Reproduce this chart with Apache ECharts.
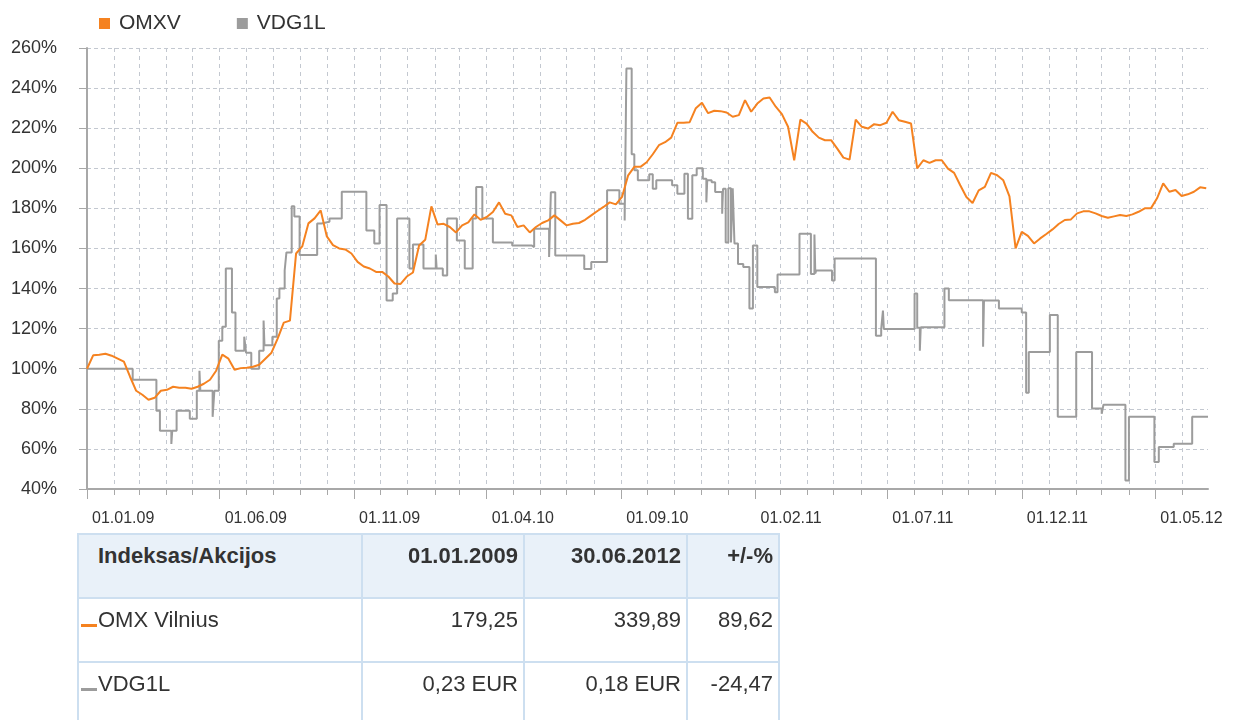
<!DOCTYPE html>
<html>
<head>
<meta charset="utf-8">
<script src="https://cdn.jsdelivr.net/npm/echarts@6/dist/echarts.min.js"></script>
<style>
  html, body { margin: 0; padding: 0; background: #fff; }
  #chart { position: absolute; left: 0; top: 0; width: 1234px; height: 720px; }
  #tbl {
    position: absolute; left: 77px; top: 533px; width: 701px;
    border-collapse: collapse; table-layout: fixed;
    font-family: 'Liberation Sans', Arial, sans-serif; font-size: 22px; color: #333;
  }
  #tbl tr { height: 64px; }
  #tbl td, #tbl th {
    border: 2px solid #cddff0; vertical-align: top;
    padding: 8px 5px 0 5px; white-space: nowrap; overflow: hidden;
  }
  #tbl th { background: #e9f1f9; font-weight: bold; text-align: right; }
  #tbl td { text-align: right; }
  #tbl .name { text-align: left; padding-left: 19px; position: relative; }
  #tbl .mark { position: absolute; left: 2px; top: 25px; width: 16px; height: 3px; }
</style>
</head>
<body>
<div id="chart"></div>
<table id="tbl"></table>
<script>
// OMXV, weekly closes rebased to 100 on 01.01.2009 (%)
var omxvWeekly = [
  100, 106.7, 107, 107.5, 106.5, 105, 103.5, 96, 89, 87,
  84.5, 85.5, 89, 89.5, 91, 90.5, 90.5, 90, 91, 92.5,
  94.5, 99, 107, 105, 99.5, 100.3, 100.5, 101, 102, 105,
  108, 115, 123, 124, 157.5, 161, 172.5, 175, 179, 166,
  161.7, 160, 159.5, 157.5, 153.3, 151, 150, 148.3, 148.3, 146,
  142.5, 142.3, 146, 148, 161.5, 164.3, 181, 172, 172.3, 170.7,
  168, 171.5, 173, 177, 174.3, 175.7, 178.2, 183, 177.3, 176.5,
  170.7, 171.5, 168, 170.7, 172.7, 174, 176.5, 174, 171.5, 172.3,
  172.7, 174.3, 176.5, 178.7, 180.7, 183, 182, 185.7, 196.5, 200.7,
  200.7, 203, 207, 211.5, 213, 215.3, 222.7, 222.7, 223, 230,
  232.7, 227.5, 228.7, 228.5, 227.8, 225.7, 226.5, 234, 228.2, 232.3,
  234.8, 235.3, 230.7, 227, 220.7, 204, 224.3, 222.3, 218.2, 215.3,
  214, 214, 209.8, 205.3, 204.3, 224.3, 220.7, 219.8, 222, 221.5,
  222.7, 228.2, 224, 223.2, 222.3, 200, 204, 202.7, 204, 204,
  199.8, 197.7, 191.5, 185.7, 182.7, 189, 190.7, 197.7, 196.5, 194,
  186, 160, 168.3, 166.3, 162.5, 165, 167.2, 169.5, 172.2, 174.2,
  174.5, 177.5, 178.5, 178.5, 177.5, 176.2, 175.3, 176, 176.7, 176.2,
  177, 178.3, 180, 180, 185, 192.5, 188.3, 189.2, 186.2, 187,
  188.3, 190.5, 190
];

// VDG1L, price changes (date, % of 01.01.2009)
var vdgDates = [
  '2009-01-01','2009-02-22','2009-03-21','2009-03-25','2009-04-07','2009-04-08','2009-04-13','2009-04-28',
  '2009-05-06','2009-05-09','2009-05-10','2009-05-24','2009-05-26','2009-05-31','2009-06-04','2009-06-08',
  '2009-06-15','2009-06-19','2009-06-29','2009-07-01','2009-07-07','2009-07-16','2009-07-21','2009-07-22',
  '2009-07-31','2009-08-05','2009-08-08','2009-08-14','2009-08-16','2009-08-22','2009-08-25','2009-08-31',
  '2009-09-20','2009-09-25','2009-10-04','2009-10-18','2009-11-15','2009-11-24','2009-11-30','2009-12-08',
  '2009-12-15','2009-12-20','2010-01-03','2010-01-07','2010-01-19','2010-02-02','2010-02-03','2010-02-10',
  '2010-02-15','2010-02-26','2010-03-07','2010-03-16','2010-03-20','2010-03-27','2010-04-08','2010-04-30',
  '2010-05-22','2010-05-25','2010-06-11','2010-06-13','2010-06-18','2010-07-21','2010-07-29','2010-08-16',
  '2010-08-30','2010-09-05','2010-09-07','2010-09-13','2010-09-16','2010-09-20','2010-10-03','2010-10-07',
  '2010-10-11','2010-10-29','2010-11-04','2010-11-12','2010-11-16','2010-11-21','2010-11-26','2010-12-03',
  '2010-12-07','2010-12-08','2010-12-13','2010-12-17','2010-12-25','2010-12-26','2010-12-29','2011-01-01',
  '2011-01-04','2011-01-06','2011-01-08','2011-01-12','2011-01-18','2011-01-25','2011-01-29','2011-02-03',
  '2011-02-23','2011-02-26','2011-03-23','2011-04-05','2011-04-09','2011-04-10','2011-04-11','2011-04-29',
  '2011-05-02','2011-06-18','2011-06-24','2011-06-26','2011-06-27','2011-08-01','2011-08-04','2011-08-07',
  '2011-08-08','2011-09-04','2011-09-09','2011-10-18','2011-10-19','2011-11-05','2011-12-01','2011-12-06',
  '2011-12-09','2012-01-02','2012-01-11','2012-02-01','2012-02-19','2012-03-01','2012-03-03','2012-03-28',
  '2012-04-01','2012-04-30','2012-05-05','2012-05-22','2012-06-12','2012-06-30'
];
var vdgValues = [
  100, 94.5, 79, 69, 62.5, 69, 79, 75,
  89, 99, 89, 76, 89, 114, 121, 150,
  128, 109, 116, 108, 100, 109, 124, 111.7,
  116, 135, 140, 149, 158, 181, 176, 156.7,
  172.5, 173.3, 175, 188.3, 169, 162.5, 181.7, 134,
  137.5, 175, 150, 162, 150, 157, 150, 146.5,
  175, 164, 150, 175, 190.7, 175, 163, 161.5,
  160.7, 169.8, 155.7, 188, 156.5, 149.8, 153.2, 189,
  182.3, 174, 249.8, 207, 199, 194, 197, 189.8,
  194, 191.5, 187.3, 197.3, 174.8, 196.5, 200, 194.8,
  183, 194, 193, 188.2, 177.3, 189.8, 163, 190,
  163, 190, 162.5, 152.3, 150.7, 130, 161.5, 140.8,
  138.2, 147, 167.3, 147.3, 167, 147.5, 149, 144,
  155, 116.5, 119.8, 129, 119.8, 137.5, 120.5, 109,
  120.7, 140, 134.2, 111, 134, 130, 128, 88,
  108.4, 126.8, 76, 108.4, 80.2, 77.5, 82, 44.3,
  76, 53.5, 61, 62.6, 76, 76
];

var labelMonths = ['2009-01', '2009-06', '2009-11', '2010-04', '2010-09', '2011-02', '2011-07', '2011-12', '2012-05'];

var tableHead = ['Indeksas/Akcijos', '01.01.2009', '30.06.2012', '+/-%'];
var tableRows = [
  ['OMX Vilnius', '179,25', '339,89', '89,62'],
  ['VDG1L', '0,23 EUR', '0,18 EUR', '-24,47']
];
var colWidths = [284, 162, 163, 92];

var orange = '#f58220';
var grey = '#9c9c9c';
var font = "'Liberation Sans', Arial, sans-serif";

// table under the chart
var tbl = document.getElementById('tbl');
var html = '<colgroup>' + colWidths.map(function (w) { return '<col style="width:' + w + 'px">'; }).join('') + '</colgroup><tr>';
tableHead.forEach(function (h, i) {
  html += '<th' + (i === 0 ? ' style="text-align:left;padding-left:19px"' : '') + '>' + h + '</th>';
});
html += '</tr>';
var marks = [orange, grey];
tableRows.forEach(function (r, ri) {
  html += '<tr>';
  r.forEach(function (c, i) {
    if (i === 0) {
      html += '<td class="name"><span class="mark" style="background:' + marks[ri] + '"></span>' + c + '</td>';
    } else {
      html += '<td>' + c + '</td>';
    }
  });
  html += '</tr>';
});
tbl.innerHTML = html;

function ts(s) {
  var p = s.split('-');
  return new Date(+p[0], +p[1] - 1, p[2] ? +p[2] : 1).getTime();
}

var monthTicks = [];
for (var y = 2009; y <= 2012; y++) {
  for (var m = 0; m < 12; m++) {
    if (y === 2012 && m > 5) break;
    monthTicks.push(new Date(y, m, 1).getTime());
  }
}
var labelTicks = labelMonths.map(ts);

var omxvData = omxvWeekly.map(function (v, i) {
  return [new Date(2009, 0, 1 + 7 * i).getTime(), v];
});
var vdgData = vdgDates.map(function (d, i) { return [ts(d), vdgValues[i]]; });

var chart = echarts.init(document.getElementById('chart'));
var xMin = ts('2009-01-01'), xMax = ts('2012-06-30');

function fmtDate(v) {
  var d = new Date(v);
  var p = function (n) { return (n < 10 ? '0' : '') + n; };
  return p(d.getDate()) + '.' + p(d.getMonth() + 1) + '.' + p(d.getFullYear() % 100);
}

chart.setOption({
  animation: false,
  backgroundColor: '#fff',
  textStyle: { fontFamily: font },
  legend: {
    left: 99, top: 13, padding: 0,
    icon: 'rect', itemWidth: 11, itemHeight: 11, itemGap: 56,
    textStyle: { fontSize: 21, color: '#333', padding: [0, 0, 0, 4] },
    data: ['OMXV', 'VDG1L']
  },
  grid: { left: 87, right: 26, top: 48, bottom: 231 },
  xAxis: [{
    type: 'value', min: xMin, max: xMax,
    axisLine: { lineStyle: { color: '#a8a8a8', width: 2 } },
    axisTick: { customValues: monthTicks, length: 6, lineStyle: { color: '#a8a8a8' } },
    axisLabel: {
      customValues: labelTicks, align: 'left', margin: 22, padding: [0, 0, 0, 5],
      fontSize: 16, color: '#333', formatter: fmtDate
    },
    splitLine: { show: true, lineStyle: { color: '#c3c8d0', type: [4, 4] } }
  }, {
    type: 'value', min: xMin, max: xMax, position: 'bottom',
    axisLine: { show: false },
    axisTick: { customValues: labelTicks, length: 10, lineStyle: { color: '#a8a8a8' } },
    axisLabel: { show: false },
    splitLine: { show: false }
  }],
  yAxis: {
    type: 'value', min: 40, max: 260, interval: 20,
    axisLine: { show: true, lineStyle: { color: '#a8a8a8', width: 2 } },
    axisTick: { show: true, length: 8, lineStyle: { color: '#a8a8a8' } },
    axisLabel: { fontSize: 18, color: '#333', margin: 30, formatter: '{value}%' },
    splitLine: { lineStyle: { color: '#c3c8d0', type: [4, 3] } }
  },
  series: [{
    name: 'OMXV', type: 'line', data: omxvData, showSymbol: false, symbol: 'none',
    color: orange, lineStyle: { width: 2, color: orange }, z: 3
  }, {
    name: 'VDG1L', type: 'line', step: 'end', data: vdgData, showSymbol: false, symbol: 'none',
    color: grey, lineStyle: { width: 2, color: grey }, z: 2
  }]
});
</script>
</body>
</html>
